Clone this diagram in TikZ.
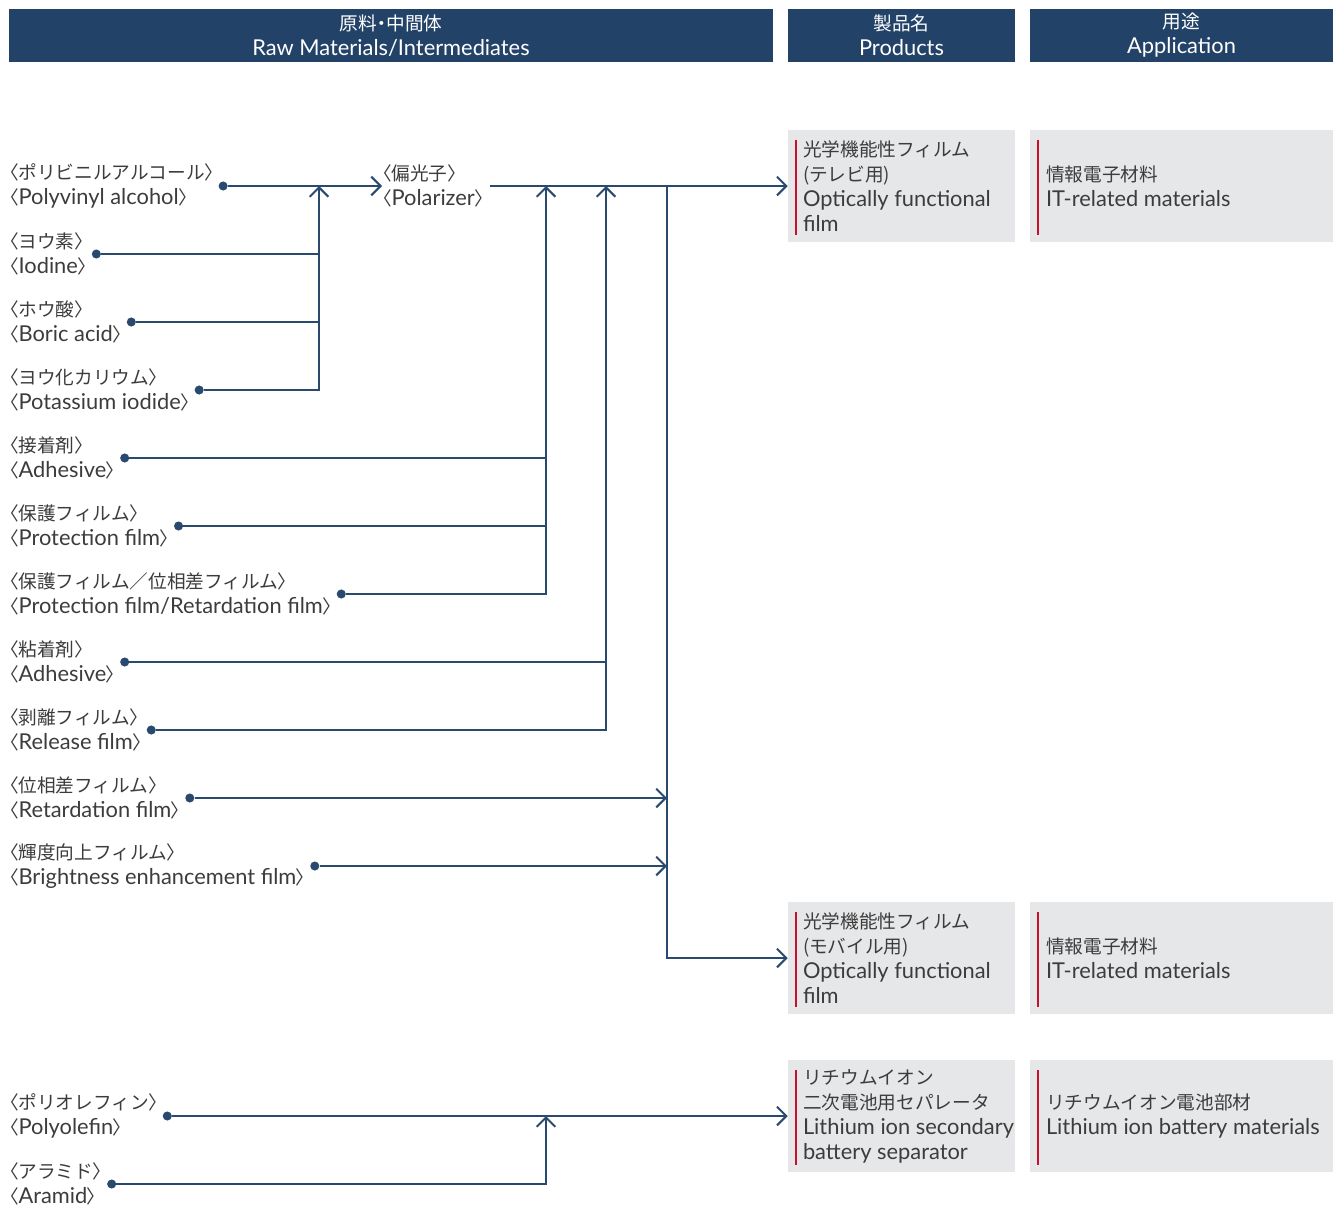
\documentclass[tikz,border=0pt]{standalone}
\usepackage{fontspec}
\setmainfont{Lato}[Scale=1.17]
\newfontfamily\jp{Noto Sans CJK JP}
\newfontfamily\jpb{Noto Sans CJK JP}[RawFeature=+palt]
\usetikzlibrary{arrows.meta,calc,positioning}
\definecolor{navy}{RGB}{35,66,104}
\definecolor{linkblue}{RGB}{42,73,110}
\definecolor{boxgray}{RGB}{230,231,232}
\definecolor{redline}{RGB}{200,16,46}
\definecolor{inkgray}{RGB}{60,60,60}
\newcommand\kk[1]{{\jpb 〈}#1{\jpb 〉}}

\begin{document}
\begin{tikzpicture}[x=0.75pt,y=-0.75pt,
  font=\fontsize{14}{18.75}\selectfont,
  headbar/.style={fill=navy,text=white,align=center,minimum height=39.75pt,inner sep=0pt},
  matl/.style={anchor=west,align=left,inner sep=0pt,text=inkgray},
  enddot/.style={circle,fill=linkblue,inner sep=0pt,minimum size=6.8pt},
  link/.style={draw=linkblue,line width=1.5pt},
  arr/.style={-{Straight Barb[length=7pt,width=14pt]}},
  prodbox/.style={fill=boxgray,minimum width=170.25pt,minimum height=84pt,inner sep=0pt},
  appbox/.style={prodbox,minimum width=227.25pt},
  boxtxt/.style={align=left,inner sep=0pt,text=inkgray},
  redbar/.style={draw=redline,line width=1.6pt}]
\useasboundingbox (0,0) rectangle (1333,1210);

% header
\node[headbar,minimum width=573pt] (hraw) at (391,35.5) {{\jpb 原料・中間体}\\Raw Materials/Intermediates};
\node[headbar,minimum width=170.25pt] (hprod) at (901.5,35.5) {{\jp 製品名}\\Products};
\node[headbar,minimum width=227.25pt] (happ) at (1181.5,35.5) {{\jp 用途}\\Application};

% raw materials
\node[matl] (pva) at (9,186) {\kk{\jp ポリビニルアルコール}\\\kk{Polyvinyl alcohol}};
\node[matl] (iodine) at (9,254) {\kk{\jp ヨウ素}\\\kk{Iodine}};
\node[matl] (boric) at (9,322) {\kk{\jp ホウ酸}\\\kk{Boric acid}};
\node[matl] (kiod) at (9,390) {\kk{\jp ヨウ化カリウム}\\\kk{Potassium iodide}};
\node[matl] (adh) at (9,458) {\kk{\jp 接着剤}\\\kk{Adhesive}};
\node[matl] (prot) at (9,526) {\kk{\jp 保護フィルム}\\\kk{Protection film}};
\node[matl] (protret) at (9,594) {\kk{\jp 保護フィルム／位相差フィルム}\\\kk{Protection film/Retardation film}};
\node[matl] (psa) at (9,662) {\kk{\jp 粘着剤}\\\kk{Adhesive}};
\node[matl] (release) at (9,730) {\kk{\jp 剥離フィルム}\\\kk{Release film}};
\node[matl] (retard) at (9,798) {\kk{\jp 位相差フィルム}\\\kk{Retardation film}};
\node[matl] (bright) at (9,866) {\kk{\jp 輝度向上フィルム}\\\kk{Brightness enhancement film}};
\node[matl] (polyol) at (9,1116) {\kk{\jp ポリオレフィン}\\\kk{Polyolefin}};
\node[matl] (aramid) at (9,1184) {\kk{\jp アラミド}\\\kk{Aramid}};
\node[matl] (pol) at (382,186) {\kk{\jp 偏光子}\\\kk{Polarizer}};

\node[enddot,right=3pt of pva] (pvadot) {};
\node[enddot,right=3pt of iodine] (iodinedot) {};
\node[enddot,right=3pt of boric] (boricdot) {};
\node[enddot,right=3pt of kiod] (kioddot) {};
\node[enddot,right=3pt of adh] (adhdot) {};
\node[enddot,right=3pt of prot] (protdot) {};
\node[enddot,right=3pt of protret] (protretdot) {};
\node[enddot,right=3pt of psa] (psadot) {};
\node[enddot,right=3pt of release] (releasedot) {};
\node[enddot,right=3pt of retard] (retarddot) {};
\node[enddot,right=3pt of bright] (brightdot) {};
\node[enddot,right=3pt of polyol] (polyoldot) {};
\node[enddot,right=3pt of aramid] (aramiddot) {};

% products
\node[prodbox] (tv) at (901.5,186) {};
\node[boxtxt,right=11.25pt of tv.west] (tvtxt) {{\jp 光学機能性フィルム}\\{\jp (テレビ用)}\\Optically functional\\film};
\node[prodbox] (mob) at (901.5,958) {};
\node[boxtxt,right=11.25pt of mob.west] (mobtxt) {{\jp 光学機能性フィルム}\\{\jp (モバイル用)}\\Optically functional\\film};
\node[prodbox] (sep) at (901.5,1116) {};
\node[boxtxt,right=11.25pt of sep.west] (septxt) {{\jp リチウムイオン}\\{\jp 二次電池用セパレータ}\\Lithium ion secondary\\battery separator};

% applications
\node[appbox] (tvapp) at (1181.5,186) {};
\node[boxtxt,right=12pt of tvapp.west] (tvapptxt) {{\jp 情報電子材料}\\IT-related materials};
\node[appbox] (mobapp) at (1181.5,958) {};
\node[boxtxt,right=12pt of mobapp.west] (mobapptxt) {{\jp 情報電子材料}\\IT-related materials};
\node[appbox] (sepapp) at (1181.5,1116) {};
\node[boxtxt,right=12pt of sepapp.west] (sepapptxt) {{\jp リチウムイオン電池部材}\\Lithium ion battery materials};

\draw[redbar] ($(tv.north west)+(8,10)$) -- ($(tv.south west)+(8,-7)$);
\draw[redbar] ($(mob.north west)+(8,10)$) -- ($(mob.south west)+(8,-7)$);
\draw[redbar] ($(sep.north west)+(8,10)$) -- ($(sep.south west)+(8,-7)$);
\draw[redbar] ($(tvapp.north west)+(8,10)$) -- ($(tvapp.south west)+(8,-7)$);
\draw[redbar] ($(mobapp.north west)+(8,10)$) -- ($(mobapp.south west)+(8,-7)$);
\draw[redbar] ($(sepapp.north west)+(8,10)$) -- ($(sepapp.south west)+(8,-7)$);

% connectors
\coordinate (busA) at (319,186);
\coordinate (busB) at (546,186);
\coordinate (busC) at (606,186);
\coordinate (busD) at (667,186);
\coordinate (busE) at (546,1116);

\draw[link,arr] (pvadot) -- (pol.west);
\draw[link] (iodinedot) -- (iodinedot -| busA);
\draw[link] (boricdot) -- (boricdot -| busA);
\draw[link,arr] (kioddot) -| (busA);
\draw[link,arr] ([xshift=4pt]pol.east) -- (tv.west);
\draw[link] (adhdot) -- (adhdot -| busB);
\draw[link] (protdot) -- (protdot -| busB);
\draw[link,arr] (protretdot) -| (busB);
\draw[link] (psadot) -- (psadot -| busC);
\draw[link,arr] (releasedot) -| (busC);
\draw[link,arr] (busD) |- (mob.west);
\draw[link,arr] (retarddot) -- (retarddot -| busD);
\draw[link,arr] (brightdot) -- (brightdot -| busD);
\draw[link,arr] (polyoldot) -- (sep.west);
\draw[link,arr] (aramiddot) -| (busE);
\end{tikzpicture}
\end{document}
